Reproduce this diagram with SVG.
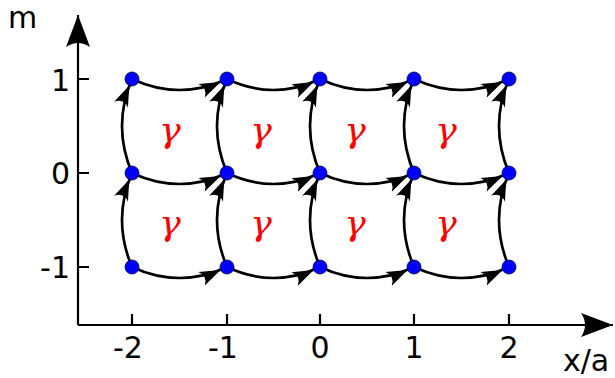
<svg xmlns="http://www.w3.org/2000/svg" width="615" height="378" viewBox="0 0 615 378">
<defs>
<style>
.ax{stroke:#000;stroke-width:2.2;fill:none}
.e{stroke:#000;stroke-width:2.7;fill:none;marker-end:url(#ah)}
.d{fill:#0000ff;stroke:#000044;stroke-width:0.8}
.lbl{font-family:"DejaVu Sans",sans-serif;font-size:30px;fill:#000}
.g{font-family:"DejaVu Serif",serif;font-style:italic;font-size:36px;fill:#ff0000;text-anchor:middle}
</style>
<marker id="ah" markerUnits="userSpaceOnUse" viewBox="0 0 34 16" markerWidth="34" markerHeight="16" refX="32" refY="8" orient="auto">
<path d="M 25,8 L 4,0.5 Q 11,8 4,15.5 Z" fill="#000"/>
</marker>
<marker id="axh" markerUnits="userSpaceOnUse" viewBox="0 0 34 26" markerWidth="34" markerHeight="26" refX="33" refY="13" orient="auto">
<path d="M 33,13 L 1,1 Q 9,13 1,25 Z" fill="#000"/>
</marker>
</defs>
<g id="axes">
<path class="ax" d="M 78,325 L 78,15" marker-end="url(#axh)"/>
<path class="ax" d="M 78,325 L 613,325" marker-end="url(#axh)"/>
<path class="ax" d="M 78,79 H 89 M 78,173 H 89 M 78,267 H 89"/>
<path class="ax" d="M 132,325 V 314 M 227,325 V 314 M 320,325 V 314 M 414,325 V 314 M 509,325 V 314"/>
<text class="lbl" x="8" y="28">m</text>
<text class="lbl" x="563" y="371">x/a</text>
<text class="lbl" x="70" y="91" text-anchor="end">1</text>
<text class="lbl" x="70" y="184" text-anchor="end">0</text>
<text class="lbl" x="70" y="278" text-anchor="end">-1</text>
<text class="lbl" x="128" y="358" text-anchor="middle">-2</text>
<text class="lbl" x="223" y="358" text-anchor="middle">-1</text>
<text class="lbl" x="320" y="358" text-anchor="middle">0</text>
<text class="lbl" x="414" y="358" text-anchor="middle">1</text>
<text class="lbl" x="509" y="358" text-anchor="middle">2</text>
</g>
<g id="connectors">
<path class="e" d="M 132,79 Q 179.5,101 227,79"/>
<path class="e" d="M 227,79 Q 273.5,101 320,79"/>
<path class="e" d="M 320,79 Q 367,101 414,79"/>
<path class="e" d="M 414,79 Q 461.5,101 509,79"/>
<path class="e" d="M 132,173 Q 179.5,195 227,173"/>
<path class="e" d="M 227,173 Q 273.5,195 320,173"/>
<path class="e" d="M 320,173 Q 367,195 414,173"/>
<path class="e" d="M 414,173 Q 461.5,195 509,173"/>
<path class="e" d="M 132,267 Q 179.5,289 227,267"/>
<path class="e" d="M 227,267 Q 273.5,289 320,267"/>
<path class="e" d="M 320,267 Q 367,289 414,267"/>
<path class="e" d="M 414,267 Q 461.5,289 509,267"/>
<path class="e" d="M 132,173 Q 112,126 132,79"/>
<path class="e" d="M 227,173 Q 207,126 227,79"/>
<path class="e" d="M 320,173 Q 300,126 320,79"/>
<path class="e" d="M 414,173 Q 394,126 414,79"/>
<path class="e" d="M 509,173 Q 489,126 509,79"/>
<path class="e" d="M 132,267 Q 112,220 132,173"/>
<path class="e" d="M 227,267 Q 207,220 227,173"/>
<path class="e" d="M 320,267 Q 300,220 320,173"/>
<path class="e" d="M 414,267 Q 394,220 414,173"/>
<path class="e" d="M 509,267 Q 489,220 509,173"/>
</g>
<g id="nodes">
<g id="n-2_1"><circle class="d" cx="132" cy="79" r="7"/></g>
<g id="n-1_1"><circle class="d" cx="227" cy="79" r="7"/></g>
<g id="n0_1"><circle class="d" cx="320" cy="79" r="7"/></g>
<g id="n1_1"><circle class="d" cx="414" cy="79" r="7"/></g>
<g id="n2_1"><circle class="d" cx="509" cy="79" r="7"/></g>
<g id="n-2_0"><circle class="d" cx="132" cy="173" r="7"/></g>
<g id="n-1_0"><circle class="d" cx="227" cy="173" r="7"/></g>
<g id="n0_0"><circle class="d" cx="320" cy="173" r="7"/></g>
<g id="n1_0"><circle class="d" cx="414" cy="173" r="7"/></g>
<g id="n2_0"><circle class="d" cx="509" cy="173" r="7"/></g>
<g id="n-2_-1"><circle class="d" cx="132" cy="267" r="7"/></g>
<g id="n-1_-1"><circle class="d" cx="227" cy="267" r="7"/></g>
<g id="n0_-1"><circle class="d" cx="320" cy="267" r="7"/></g>
<g id="n1_-1"><circle class="d" cx="414" cy="267" r="7"/></g>
<g id="n2_-1"><circle class="d" cx="509" cy="267" r="7"/></g>
</g>
<g id="labels">
<text class="g" x="170" y="142">γ</text>
<text class="g" x="261" y="142">γ</text>
<text class="g" x="355" y="142">γ</text>
<text class="g" x="446" y="142">γ</text>
<text class="g" x="170" y="235">γ</text>
<text class="g" x="261" y="235">γ</text>
<text class="g" x="355" y="235">γ</text>
<text class="g" x="446" y="235">γ</text>
</g>
</svg>
